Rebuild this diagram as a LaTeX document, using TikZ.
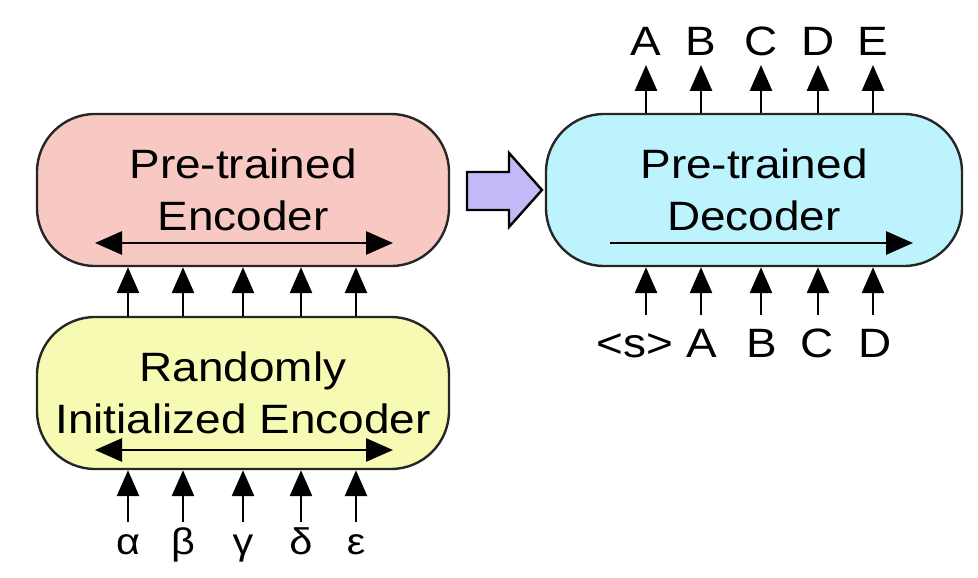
\documentclass[tikz,border=0pt]{standalone}
\usepackage{fontspec}
\setmainfont{Liberation Sans}[FakeStretch=1.12]
\usetikzlibrary{arrows.meta}
\definecolor{encpink}{RGB}{248,200,194}
\definecolor{randyellow}{RGB}{246,250,178}
\definecolor{deccyan}{RGB}{189,243,252}
\definecolor{arrowpurple}{RGB}{195,185,247}
\tikzset{
  block/.style={draw=black!85, line width=2.4pt, rounded corners=58pt,
    minimum width=412pt, minimum height=152pt, align=center, inner sep=0pt,
    font=\fontsize{41}{52}\selectfont},
  tok/.style={line width=2.8pt, -{Triangle[length=26pt,width=22pt]}},
  flow/.style={line width=2.8pt,
    {Triangle[length=27pt,width=23pt]}-{Triangle[length=27pt,width=23pt]}},
  lab/.style={anchor=base, inner sep=0pt, font=\fontsize{41}{48}\selectfont},
}
\begin{document}
\begin{tikzpicture}[x=1pt,y=-1pt]
    \useasboundingbox (0,0) rectangle (978,578);
    % the three blocks
    \node[block,fill=encpink] (enc) at (243,190) {Pre-trained\\Encoder};
    \node[block,fill=randyellow] (rand) at (243,393) {Randomly\\Initialized Encoder};
    \node[block,fill=deccyan,minimum width=416pt] (dec) at (754,190) {Pre-trained\\Decoder};
    % arrows inside the blocks
    \coordinate(encL) at (95,243);
    \coordinate(encR) at (393,243);
    \coordinate(randL) at (95,450);
    \coordinate(randR) at (393,450);
    \coordinate(decL) at (610,243);
    \coordinate(decR) at (913,243);
    \draw[flow] (encL)--(encR);
    \draw[flow] (randL)--(randR);
    \draw[tok,-{Triangle[length=27pt,width=23pt]}] (decL)--(decR);
    % encoder inputs
    \foreach \x/\g [count=\i] in {128/α,183/β,243/γ,301/δ,356/ε}{
        \coordinate(in\i) at (\x,522);
        \node[lab,font=\fontsize{37}{40}\selectfont] (g\i) at (\x,554) {\g};
        \draw[tok] (in\i)--(in\i |- rand.south);
        \draw[tok] (in\i |- rand.north)--(in\i |- enc.south);
    }
    % decoder outputs
    \foreach \x/\t [count=\i] in {646/A,701/B,761/C,818/D,873/E}{
        \coordinate(out\i) at (\x,65);
        \node[lab] (o\i) at (\x,56) {\t};
        \draw[tok] (out\i |- dec.north)--(out\i);
    }
    % decoder inputs
    \foreach \x/\lx/\t [count=\i] in {646/635/<s>,701/702/A,761/762/B,818/817/C,873/875/D}{
        \coordinate(din\i) at (\x,315);
        \node[lab] (d\i) at (\lx,357) {\t};
        \draw[tok] (din\i)--(din\i |- dec.south);
    }
    % big arrow from encoder to decoder
    \draw[fill=arrowpurple,line width=2.4pt,line join=miter]
        (467,172)--(509,172)--(509,153)--(542,190)--(509,227)--(509,210)--(467,210)--cycle;
\end{tikzpicture}
\end{document}
